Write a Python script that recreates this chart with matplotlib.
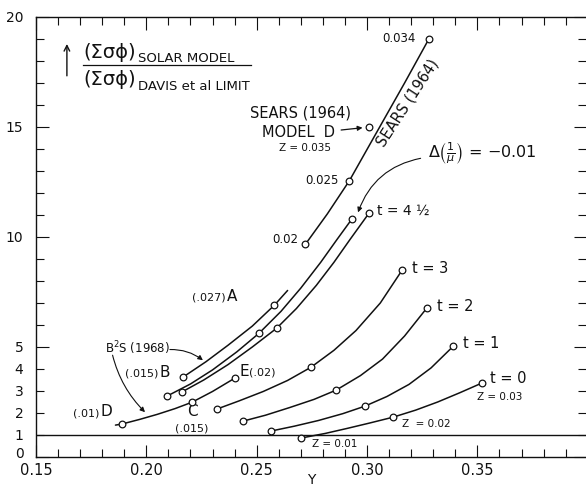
import matplotlib.pyplot as plt
from matplotlib.ticker import MultipleLocator, FixedLocator
from matplotlib.transforms import ScaledTranslation

# ---- curve traces (helium abundance Y, flux ratio) ----
sears_line_Y = [0.272, 0.282, 0.292, 0.306, 0.317, 0.328]
sears_line_r = [9.66, 11.05, 12.56, 15.05, 17.0, 19.0]

a_line_Y = [0.2166, 0.227, 0.237, 0.248, 0.258, 0.264]
a_line_r = [3.63, 4.33, 5.08, 5.95, 6.9, 7.57]

delta_line_Y = [0.2094, 0.220, 0.230, 0.241, 0.251, 0.261, 0.270, 0.279, 0.2864, 0.293]
delta_line_r = [2.77, 3.32, 3.96, 4.78, 5.62, 6.62, 7.68, 8.85, 9.89, 10.8]

t45_line_Y = [0.216, 0.226, 0.237, 0.248, 0.259, 0.268, 0.277, 0.285, 0.2923, 0.301]
t45_line_r = [2.95, 3.5, 4.2, 5.0, 5.85, 6.75, 7.8, 8.85, 9.89, 11.1]

dce_line_Y = [0.186, 0.189, 0.197, 0.205, 0.213, 0.2207, 0.230, 0.240]
dce_line_r = [1.45, 1.50, 1.71, 1.94, 2.2, 2.49, 2.98, 3.58]

t3_line_Y = [0.232, 0.242, 0.253, 0.264, 0.2746, 0.285, 0.295, 0.306, 0.3158]
t3_line_r = [2.18, 2.55, 2.98, 3.48, 4.08, 4.85, 5.75, 7.0, 8.48]

t2_line_Y = [0.2438, 0.254, 0.265, 0.276, 0.286, 0.297, 0.307, 0.317, 0.327]
t2_line_r = [1.63, 1.9, 2.25, 2.62, 3.04, 3.7, 4.45, 5.5, 6.76]

t1_line_Y = [0.2565, 0.267, 0.278, 0.289, 0.299, 0.309, 0.319, 0.329, 0.339]
t1_line_r = [1.18, 1.4, 1.66, 1.97, 2.31, 2.75, 3.3, 4.05, 5.03]

t0_line_Y = [0.270, 0.281, 0.291, 0.301, 0.3118, 0.322, 0.332, 0.342, 0.352]
t0_line_r = [0.86, 1.07, 1.3, 1.54, 1.81, 2.13, 2.5, 2.92, 3.36]

# ---- model points (open circles) ----
sears_pts_Y = [0.272, 0.292, 0.328, 0.301]
sears_pts_r = [9.66, 12.56, 19.0, 15.0]
bs_pts_Y = [0.2166, 0.258, 0.2094, 0.251, 0.293, 0.216, 0.259, 0.301]
bs_pts_r = [3.63, 6.9, 2.77, 5.62, 10.8, 2.95, 5.85, 11.1]
dce_pts_Y = [0.189, 0.2207, 0.240]
dce_pts_r = [1.50, 2.49, 3.58]
t_pts_Y = [0.232, 0.2746, 0.3158, 0.2438, 0.286, 0.327,
           0.2565, 0.299, 0.339, 0.270, 0.3118, 0.352]
t_pts_r = [2.18, 4.08, 8.48, 1.63, 3.04, 6.76,
           1.18, 2.31, 5.03, 0.86, 1.81, 3.36]

davis_limit = 1.0
x_major = [0.15, 0.20, 0.25, 0.30, 0.35]
y_major = [0, 5, 10, 15, 20]
y_minor_labels = {1: "1", 2: "2", 3: "3", 4: "4"}

fig = plt.figure(figsize=(5.86, 4.87), dpi=100)
ax = fig.add_axes([36 / 586, 30 / 487, 550 / 586, 440 / 487])
ink = "#111111"
lw = 1.1

ax.axhline(davis_limit, color=ink, lw=1.0)
for xs, ys in [(sears_line_Y, sears_line_r), (a_line_Y, a_line_r),
               (delta_line_Y, delta_line_r), (t45_line_Y, t45_line_r),
               (dce_line_Y, dce_line_r), (t3_line_Y, t3_line_r),
               (t2_line_Y, t2_line_r), (t1_line_Y, t1_line_r),
               (t0_line_Y, t0_line_r)]:
    ax.plot(xs, ys, color=ink, lw=lw, solid_capstyle="round")
for xs, ys in [(sears_pts_Y, sears_pts_r), (bs_pts_Y, bs_pts_r),
               (dce_pts_Y, dce_pts_r), (t_pts_Y, t_pts_r)]:
    ax.plot(xs, ys, "o", ms=4.8, mfc="white", mec=ink, mew=0.9, zorder=5)

ax.set_xlim(0.15, 0.3992)
ax.set_ylim(0, 20)
ax.spines["right"].set_visible(False)
for s in ["left", "bottom", "top"]:
    ax.spines[s].set_linewidth(1.0)
    ax.spines[s].set_color(ink)

ax.xaxis.set_major_locator(FixedLocator(x_major))
ax.xaxis.set_minor_locator(MultipleLocator(0.01))
ax.set_xticklabels([f"{v:.2f}" for v in x_major])
ax.yaxis.set_major_locator(FixedLocator(y_major))
ax.set_yticks([v for v in range(1, 20) if v % 5], minor=True)
ax.set_yticklabels([y_minor_labels.get(v, "") for v in range(1, 20) if v % 5], minor=True)
ax.tick_params(which="both", direction="in", top=True, right=True, color=ink,
               labelsize=10.5, labelcolor=ink, width=0.8)
ax.tick_params(axis="y", which="both", labelsize=10)
ax.tick_params(which="major", length=9)
ax.tick_params(which="minor", length=5.5)
ax.tick_params(axis="y", which="both", pad=9)
ax.tick_params(axis="x", which="both", pad=4)
zero_label = ax.get_yticklabels()[0]
zero_label.set_transform(zero_label.get_transform()
                         + ScaledTranslation(0, 3 / 72, fig.dpi_scale_trans))
ax.set_xlabel("Y", fontsize=10, labelpad=-3, color=ink)

# ---- ordinate title (fraction) ----
ax.annotate("", xy=(0.1640, 18.9), xytext=(0.1640, 17.2),
            arrowprops=dict(arrowstyle="->", color=ink, lw=1.0))
ax.text(0.1713, 18.4, "(Σσϕ)", fontsize=14, va="center", ha="left", color=ink)
ax.text(0.1960, 18.1, "SOLAR MODEL", fontsize=9.5, va="center", ha="left", color=ink)
ax.plot([0.1713, 0.2474], [17.82, 17.82], color=ink, lw=0.9)
ax.text(0.1713, 17.15, "(Σσϕ)", fontsize=14, va="center", ha="left", color=ink)
ax.text(0.1960, 16.85, "DAVIS et al LIMIT", fontsize=9.5, va="center", ha="left", color=ink)

# ---- Sears labels ----
ax.text(0.270, 15.64, "SEARS (1964)", fontsize=10.5, ha="center", va="center", color=ink)
ax.text(0.2855, 14.77, "MODEL  D", fontsize=10.5, ha="right", va="center", color=ink)
ax.annotate("", xy=(0.2992, 14.98), xytext=(0.2870, 14.85),
            arrowprops=dict(arrowstyle="-|>", color=ink, lw=0.9, mutation_scale=7))
ax.text(0.2719, 14.05, "Z = 0.035", fontsize=7.5, ha="center", va="center", color=ink)
ax.text(0.3186, 16.1, "SEARS (1964)", fontsize=10.5, rotation=57,
        ha="center", va="center", color=ink)
ax.text(0.3222, 19.0, "0.034", fontsize=8.5, ha="right", va="center", color=ink)
ax.text(0.2870, 12.55, "0.025", fontsize=8.5, ha="right", va="center", color=ink)
ax.text(0.2690, 9.9, "0.02", fontsize=8.5, ha="right", va="center", color=ink)

ax.text(0.3276, 13.8, r"$\Delta\left(\frac{1}{\mu}\right)$ = −0.01", fontsize=11.5,
        ha="left", va="center", color=ink)
ax.annotate("", xy=(0.2955, 11.0), xytext=(0.3255, 13.6),
            arrowprops=dict(arrowstyle="-|>", color=ink, lw=0.8, mutation_scale=7,
                            connectionstyle="arc3,rad=0.3"))
ax.text(0.3045, 11.2, "t = 4 ½", fontsize=10, ha="left", va="center", color=ink)

# ---- B2S labels ----
ax.text(0.2360, 7.25, "(.027)", fontsize=8, ha="right", va="center", color=ink)
ax.text(0.2365, 7.3, "A", fontsize=11, ha="left", va="center", color=ink)
ax.text(0.2055, 3.8, "(.015)", fontsize=8, ha="right", va="center", color=ink)
ax.text(0.2060, 3.85, "B", fontsize=11, ha="left", va="center", color=ink)
ax.text(0.2424, 3.9, "E", fontsize=11, ha="left", va="center", color=ink)
ax.text(0.2463, 3.82, "(.02)", fontsize=8, ha="left", va="center", color=ink)
ax.text(0.1785, 2.0, "(.01)", fontsize=8, ha="right", va="center", color=ink)
ax.text(0.1790, 2.05, "D", fontsize=11, ha="left", va="center", color=ink)
ax.text(0.2207, 2.05, "C", fontsize=11, ha="center", va="center", color=ink)
ax.text(0.2207, 1.3, "(.015)", fontsize=8, ha="center", va="center", color=ink)
ax.text(0.1813, 4.95, "B$^2$S (1968)", fontsize=8.5, ha="left", va="center", color=ink)
ax.annotate("", xy=(0.2266, 4.32), xytext=(0.2094, 4.88),
            arrowprops=dict(arrowstyle="-|>", color=ink, lw=0.8, mutation_scale=7,
                            connectionstyle="arc3,rad=-0.2"))
ax.annotate("", xy=(0.2003, 1.95), xytext=(0.1844, 4.75),
            arrowprops=dict(arrowstyle="-|>", color=ink, lw=0.8, mutation_scale=7,
                            connectionstyle="arc3,rad=0.15"))

# ---- time labels ----
ax.text(0.3204, 8.55, "t = 3", fontsize=10.5, ha="left", va="center", color=ink)
ax.text(0.3317, 6.82, "t = 2", fontsize=10.5, ha="left", va="center", color=ink)
ax.text(0.3435, 5.14, "t = 1", fontsize=10.5, ha="left", va="center", color=ink)
ax.text(0.3557, 3.59, "t = 0", fontsize=10.5, ha="left", va="center", color=ink)
ax.text(0.3498, 2.73, "Z = 0.03", fontsize=7.5, ha="left", va="center", color=ink)
ax.text(0.3158, 1.5, "Z  = 0.02", fontsize=7.5, ha="left", va="center", color=ink)
ax.text(0.2750, 0.6, "Z = 0.01", fontsize=7.5, ha="left", va="center", color=ink)

fig.savefig("out.png", dpi=100)
